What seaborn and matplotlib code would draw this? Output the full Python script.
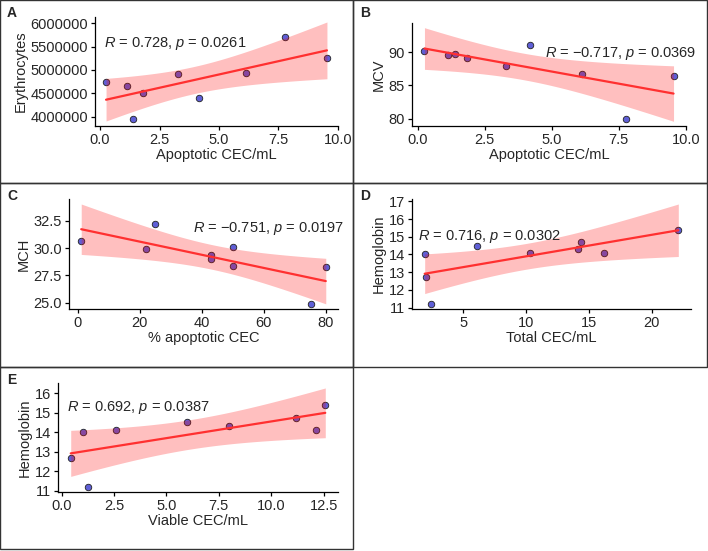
import numpy as np
import pandas as pd
import matplotlib
matplotlib.use('Agg')
import matplotlib.pyplot as plt
import seaborn as sns
from matplotlib.patches import Rectangle
from matplotlib.ticker import MultipleLocator

# Data
apoptotic_cec = [0.25, 1.12, 1.40, 1.82, 3.29, 4.17, 6.12, 7.76, 9.54]
erythrocytes = [4740000, 4660000, 3960000, 4500000, 4910000, 4390000, 4930000, 5700000, 5260000]
mcv = [90.15, 89.55, 89.75, 89.15, 87.9, 91.0, 86.75, 80.0, 86.4]

pct_apoptotic = [1.2, 22.1, 25.1, 43.1, 43.1, 50.1, 50.1, 75.1, 80.0]
mch = [30.65, 29.94, 32.19, 29.38, 29.04, 30.09, 28.36, 24.88, 28.27]

total_cec = [1.92, 2.03, 2.45, 6.08, 10.29, 14.08, 14.37, 16.18, 22.1]
hemoglobin_d = [14.0, 12.7, 11.2, 14.5, 14.1, 14.3, 14.7, 14.1, 15.4]

viable_cec = [0.43, 1.0, 1.24, 2.57, 6.0, 8.0, 11.2, 12.12, 12.58]
hemoglobin_e = [12.7, 14.0, 11.2, 14.1, 14.5, 14.3, 14.7, 14.1, 15.4]

stat_labels = ['0.728', '\u22120.717', '\u22120.751', '0.716', '0.692']
p_labels = ['0.0261', '0.0369', '0.0197', '0.0302', '0.0387']

sns.set_style('ticks')
plt.rcParams['font.family'] = ['Liberation Sans', 'DejaVu Sans']
plt.rcParams['mathtext.fontset'] = 'custom'
plt.rcParams['mathtext.rm'] = 'Liberation Sans'
plt.rcParams['mathtext.it'] = 'Liberation Sans:italic'

W, H = 708, 551
fig = plt.figure(figsize=(W / 100, H / 100), dpi=100)


def px_axes(left, top, right, bottom):
    return fig.add_axes([left / W, 1 - bottom / H, (right - left) / W, (bottom - top) / H])


T_975_DF7 = 2.364624  # t quantile for n = 9 points


def panel(ax, x, y, xlabel, ylabel, r, p, text_xy, xstep, ystep, sci_plain=False):
    df = pd.DataFrame({'x': x, 'y': y})
    sns.scatterplot(data=df, x='x', y='y', ax=ax, color='#5f5fd6', edgecolor='#222222',
                    linewidth=0.6, s=22, zorder=2)
    # linear fit with analytic 95% band
    xa = np.asarray(x, float)
    ya = np.asarray(y, float)
    slope, icpt = np.polyfit(xa, ya, 1)
    grid = np.linspace(xa.min(), xa.max(), 80)
    resid = ya - (slope * xa + icpt)
    n = len(xa)
    s = np.sqrt(np.sum(resid ** 2) / (n - 2))
    se = s * np.sqrt(1 / n + (grid - xa.mean()) ** 2 / np.sum((xa - xa.mean()) ** 2))
    fit = slope * grid + icpt
    ax.fill_between(grid, fit - T_975_DF7 * se, fit + T_975_DF7 * se, color='red',
                    alpha=0.25, linewidth=0, zorder=3)
    sns.lineplot(x=grid, y=fit, ax=ax, color='#ff3030', linewidth=1.6, zorder=4)

    # ggplot-style 5% expansion
    xr = xa.max() - xa.min()
    ax.set_xlim(xa.min() - 0.05 * xr, xa.max() + 0.05 * xr)
    lo = min(ya.min(), (fit - T_975_DF7 * se).min())
    hi = max(ya.max(), (fit + T_975_DF7 * se).max())
    ax.set_ylim(lo - 0.05 * (hi - lo), hi + 0.05 * (hi - lo))

    ax.xaxis.set_major_locator(MultipleLocator(xstep))
    ax.yaxis.set_major_locator(MultipleLocator(ystep))
    if sci_plain:
        ax.ticklabel_format(style='plain', axis='y', useOffset=False)
    ax.set_xlabel(xlabel, fontsize=10.5, labelpad=1)
    ax.set_ylabel(ylabel, fontsize=10.5, labelpad=2)
    ax.tick_params(labelsize=10.5, length=3, width=0.9, color='black', pad=2)
    for side in ['left', 'bottom']:
        ax.spines[side].set_linewidth(0.9)
        ax.spines[side].set_color('black')
    sns.despine(ax=ax)
    ax.text(text_xy[0], text_xy[1], '$R$ = ' + r + ', $p$ = ' + p, fontsize=10.5,
            ha='left', va='center', zorder=5)


axA = px_axes(95, 17, 338, 126)
panel(axA, apoptotic_cec, erythrocytes, 'Apoptotic CEC/mL', 'Erythrocytes',
      stat_labels[0], p_labels[0], (0.17, 5560000), 2.5, 500000, sci_plain=True)

axB = px_axes(412, 23, 686, 126)
panel(axB, apoptotic_cec, mcv, 'Apoptotic CEC/mL', 'MCV',
      stat_labels[1], p_labels[1], (4.75, 89.75), 2.5, 5)

axC = px_axes(69, 199, 338, 309)
panel(axC, pct_apoptotic, mch, '% apoptotic CEC', 'MCH',
      stat_labels[2], p_labels[2], (37.3, 31.79), 20, 2.5)

axD = px_axes(412, 199, 691, 309)
panel(axD, total_cec, hemoglobin_d, 'Total CEC/mL', 'Hemoglobin',
      stat_labels[3], p_labels[3], (1.39, 15.0), 5, 1)

axE = px_axes(58, 383, 338, 492)
panel(axE, viable_cec, hemoglobin_e, 'Viable CEC/mL', 'Hemoglobin',
      stat_labels[4], p_labels[4], (0.24, 15.24), 2.5, 1)

# panel frames and letters
boxes = [(0, 0, 353, 183, 'A'), (353, 0, 707, 183, 'B'), (0, 183, 353, 367, 'C'),
         (353, 183, 707, 367, 'D'), (0, 367, 353, 549, 'E')]
for l, t, r, b, letter in boxes:
    fig.add_artist(Rectangle((l / W, 1 - b / H), (r - l) / W, (b - t) / H,
                             transform=fig.transFigure, fill=False,
                             edgecolor='#333333', linewidth=1.0))
    fig.text((l + 7) / W, 1 - (t + 13) / H, letter, fontsize=10, fontweight='bold',
             ha='left', va='center')

fig.savefig('out.png', dpi=100)
